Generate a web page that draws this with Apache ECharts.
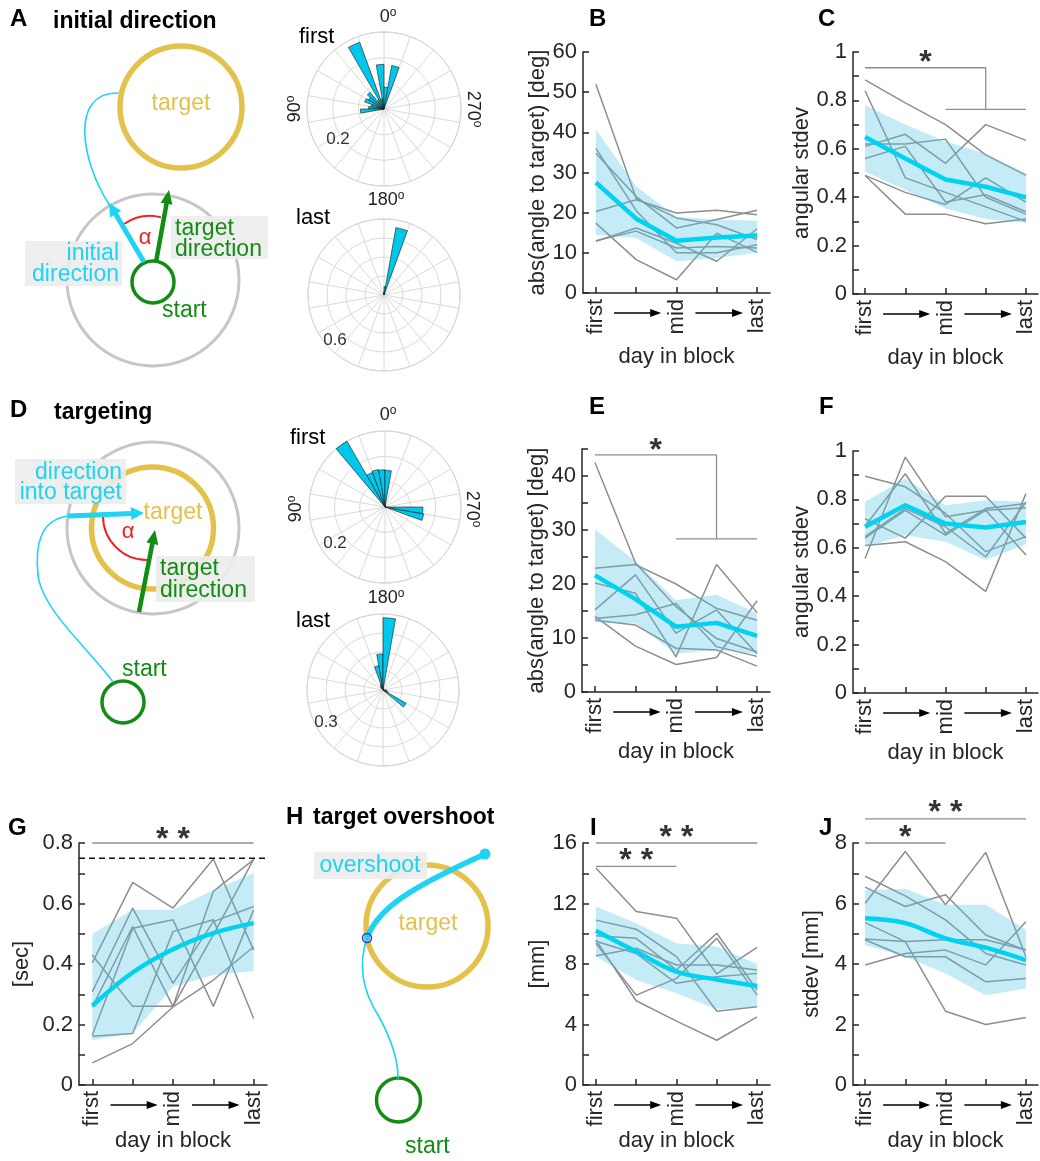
<!DOCTYPE html>
<html><head><meta charset="utf-8">
<script src="https://cdn.jsdelivr.net/npm/echarts@6/dist/echarts.min.js"></script>
<style>html,body{margin:0;padding:0;background:#fff}#c{width:1040px;height:1161px}</style>
</head><body><div id="c"></div>
<script>
// ---------- categories / ticks ----------
const dayLabels = ['first', '', 'mid', '', 'last'];
const dayTicks = [0, 1, 2, 3, 4];
const dayLabelPos = [0, 2, 4];
const roseBins = ['0','10','20','30','40','50','60','70','80','90','100','110','120','130','140','150','160','170',
  '180','190','200','210','220','230','240','250','260','270','280','290','300','310','320','330','340','350'];

// ---------- rose histograms (probability per 10 deg bin, counter-clockwise from top) ----------
const initFirst = [0.174,0.04,0.277,0.04,0.085,0.07,0.08,0.05,0.06,0.092,0,0,0,0,0,0,0,0,0,0,0,0,0,0,0,0,0,0,0,0,0,0,0,0,0.172,0.085];
const initLast  = [0.03,0,0,0,0,0,0,0,0,0,0,0,0,0,0,0,0,0,0,0,0,0,0,0,0,0,0,0,0,0,0,0,0,0.02,0.72,0.09];
const targFirst = [0.147,0.15,0.145,0.30,0,0,0,0,0,0,0,0,0,0,0,0,0,0,0,0,0,0,0,0,0,0.155,0.15,0,0,0,0,0,0,0,0,0.145];
const targLast  = [0.19,0.13,0.03,0.02,0,0,0,0,0,0,0,0,0,0,0,0,0,0,0,0,0,0,0,0.14,0.03,0,0.02,0,0,0,0,0,0,0,0,0.38];

// ---------- B: initial direction error ----------
const bMean  = [27.5, 18.5, 13.0, 13.8, 14.3];
const bUpper = [40.7, 26.5, 19.0, 18.3, 18.0];
const bLower = [14.5, 13.7, 7.9, 8.7, 10.0];
const bSubj = [
  [52, 23.5, 18.7, 17.0, 13.3],
  [36, 20.5, 10.0, 10.0, 12.0],
  [34.8, 24.0, 16.2, 18.3, 20.6],
  [20.3, 23.2, 19.9, 20.6, 19.5],
  [17.4, 8.3, 3.3, 14.9, 10.1],
  [12.9, 16.2, 12.4, 7.9, 16.0],
  [13.0, 15.4, 11.2, 11.6, 11.2]
];
// ---------- C ----------
const cMean  = [0.649, 0.56, 0.473, 0.443, 0.399];
const cUpper = [0.78, 0.70, 0.63, 0.58, 0.50];
const cLower = [0.505, 0.43, 0.353, 0.31, 0.294];
const cSubj = [
  [0.885, 0.79, 0.70, 0.575, 0.49],
  [0.61, 0.66, 0.54, 0.70, 0.635],
  [0.84, 0.48, 0.42, 0.36, 0.30],
  [0.62, 0.62, 0.64, 0.40, 0.33],
  [0.56, 0.61, 0.38, 0.41, 0.34],
  [0.49, 0.33, 0.33, 0.29, 0.31],
  [0.49, 0.42, 0.37, 0.48, 0.38]
];
const cSig = [[[0,0.935],[3,0.935],[3,0.763]], [[2,0.763],[4,0.763]]];
const cStars = [[1.5, 0.952, '*']];
// ---------- E ----------
const eMean  = [21.6, 17.2, 12.1, 12.8, 10.4];
const eUpper = [30.1, 24.2, 17.0, 18.0, 14.6];
const eLower = [12.9, 12.7, 7.1, 7.8, 7.1];
const eSubj = [
  [42.5, 23.9, 15.8, 9.9, 7.4],
  [22.9, 23.6, 20.0, 15.5, 13.3],
  [20.2, 18.3, 6.5, 23.6, 14.7],
  [15.2, 21.7, 10.9, 15.2, 7.1],
  [13.6, 14.3, 16.4, 8.4, 6.6],
  [13.3, 12.4, 8.1, 7.8, 4.8],
  [14.0, 8.5, 5.1, 6.4, 16.9]
];
const eSig = [[[0,43.9],[3,43.9],[3,28.35]], [[2,28.35],[4,28.35]]];
const eStars = [[1.5, 44.6, '*']];
// ---------- F ----------
const fMean  = [0.687, 0.776, 0.70, 0.684, 0.707];
const fUpper = [0.79, 0.886, 0.776, 0.797, 0.79];
const fLower = [0.604, 0.652, 0.625, 0.55, 0.615];
const fSubj = [
  [0.896, 0.852, 0.742, 0.584, 0.646],
  [0.556, 0.975, 0.728, 0.755, 0.57],
  [0.72, 0.64, 0.813, 0.813, 0.64],
  [0.69, 0.906, 0.66, 0.762, 0.783],
  [0.646, 0.762, 0.687, 0.563, 0.79],
  [0.64, 0.755, 0.652, 0.755, 0.766],
  [0.61, 0.625, 0.543, 0.42, 0.824]
];
// ---------- G ----------
const gMean  = [0.262, 0.372, 0.449, 0.502, 0.535];
const gUpper = [0.50, 0.579, 0.579, 0.645, 0.70];
const gLower = [0.148, 0.17, 0.325, 0.364, 0.377];
const gSubj = [
  [0.404, 0.67, 0.585, 0.747, 0.446],
  [0.43, 0.26, 0.26, 0.64, 0.745],
  [0.308, 0.585, 0.336, 0.54, 0.59],
  [0.258, 0.524, 0.26, 0.496, 0.747],
  [0.165, 0.518, 0.546, 0.26, 0.579],
  [0.161, 0.17, 0.507, 0.546, 0.22],
  [0.073, 0.137, 0.258, 0.347, 0.457]
];
const gSig = [[[0,0.8],[4,0.8]]];
const gStars = [[2, 0.811, '* *']];
const gLimit = 0.75;
// ---------- I ----------
const iMean  = [10.2, 8.82, 7.49, 6.98, 6.54];
const iUpper = [11.8, 10.7, 9.37, 9.15, 8.0];
const iLower = [8.49, 6.94, 6.06, 5.0, 5.17];
const iSubj = [
  [14.34, 11.47, 11.03, 7.34, 9.1],
  [10.9, 10.3, 8.49, 4.88, 5.17],
  [9.86, 9.7, 7.6, 10.03, 6.28],
  [9.59, 5.57, 4.22, 2.96, 4.5],
  [9.37, 5.94, 7.05, 9.7, 5.94],
  [8.55, 9.04, 7.93, 7.93, 7.6],
  [9.5, 8.7, 6.72, 7.16, 7.38]
];
const iSig = [[[0,16],[4,16]], [[0,14.45],[2,14.45]]];
const iStars = [[2, 16.31, '* *'], [1, 14.77, '* *']];
// ---------- J ----------
const jMean  = [5.51, 5.35, 4.85, 4.54, 4.13];
const jUpper = [6.45, 6.49, 5.96, 5.96, 5.13];
const jLower = [4.63, 4.24, 3.69, 2.97, 3.19];
const jSubj = [
  [6.01, 7.72, 5.96, 7.69, 4.24],
  [6.9, 6.25, 5.46, 4.35, 3.97],
  [6.54, 5.9, 6.29, 4.96, 4.46],
  [5.37, 4.74, 2.44, 2.0, 2.23],
  [4.83, 4.74, 4.8, 4.8, 4.46],
  [4.8, 4.24, 4.24, 3.41, 3.52],
  [3.97, 4.35, 4.46, 3.97, 5.4]
];
const jSig = [[[0,8.8],[4,8.8]], [[0,8],[2,8]]];
const jStars = [[2, 9.0, '* *'], [1, 8.15, '*']];

// ---------- styles ----------
const FONT = '"Liberation Sans", Arial, Helvetica, sans-serif';
const AX = '#262626';
const GRAYL = '#8e8e8e';
const CYAN = '#00D2F0';
const CYAN_T = '#1ED3F3';
const BAND = 'rgba(80,195,230,0.33)';
const ROSE = '#00C8EA';
const GOLD = '#E2C24A';
const GREEN = '#138C13';
const RED = '#F02020';
const CIRC_GRAY = '#C6C6C6';
const BOX = 'rgba(236,236,236,0.9)';

const grid = [], xAxis = [], yAxis = [], series = [], polar = [], angleAxis = [], radiusAxis = [], graphics = [];
const panels = [];

function addPanel(o) {
  const gi = grid.length;
  grid.push({left: o.left, top: o.top, width: o.width, height: o.height, containLabel: false, outerBoundsMode: 'none'});
  const xi = xAxis.length;
  xAxis.push({gridIndex: gi, type: 'value', min: o.xmin, max: o.xmax, position: 'bottom',
    axisLine: {show: true, onZero: false, lineStyle: {color: AX, width: 1.5}},
    axisTick: {show: true, inside: true, length: 6, customValues: dayTicks, lineStyle: {color: AX, width: 1.5}},
    axisLabel: {show: true, customValues: dayLabelPos, rotate: 90, margin: 6, fontSize: 22, color: AX, fontFamily: FONT,
      formatter: v => dayLabels[Math.round(v)]},
    splitLine: {show: false},
    name: 'day in block', nameLocation: 'middle', nameGap: o.xNameGap,
    nameTextStyle: {fontSize: 22, color: AX, fontFamily: FONT}});
  const yi = yAxis.length;
  yAxis.push({gridIndex: gi, type: 'value', min: 0, max: o.ymax, interval: o.ystep,
    axisLine: {show: true, onZero: false, lineStyle: {color: AX, width: 1.5}},
    axisTick: {show: true, inside: true, length: 6, lineStyle: {color: AX, width: 1.5}},
    axisLabel: {fontSize: 22, color: AX, fontFamily: FONT, margin: 6,
      formatter: v => { const k = v / o.labelStep; return Math.abs(k - Math.round(k)) < 1e-6 ? String(+v.toFixed(2)) : ''; }},
    splitLine: {show: false},
    name: o.yName, nameLocation: 'middle', nameGap: o.yNameGap,
    nameTextStyle: {fontSize: 22, color: AX, fontFamily: FONT}});
  // individual subjects
  o.subj.forEach(s => series.push({type: 'line', xAxisIndex: xi, yAxisIndex: yi, data: s.map((v, i) => [dayTicks[i], v]),
    symbol: 'none', silent: true, lineStyle: {color: GRAYL, width: 1.5}, z: 2}));
  // confidence band
  const up = o.upper, lo = o.lower;
  series.push({type: 'custom', xAxisIndex: xi, yAxisIndex: yi, silent: true, z: 3,
    data: up.map((u, i) => [dayTicks[i], lo[i], u]), encode: {x: 0, y: [1, 2]},
    renderItem: (params, api) => {
      if (params.dataIndex !== 0) return {type: 'group', children: []};
      const a = up.map((v, i) => api.coord([dayTicks[i], v]));
      const b = lo.map((v, i) => api.coord([dayTicks[i], v])).reverse();
      return {type: 'polygon', shape: {points: a.concat(b)}, style: {fill: BAND}};
    }});
  // mean
  series.push({type: 'line', xAxisIndex: xi, yAxisIndex: yi, data: o.mean.map((v, i) => [dayTicks[i], v]),
    symbol: 'none', silent: true, smooth: o.smooth || false, lineStyle: {color: CYAN, width: 4.5}, z: 4});
  // limit line
  if (o.limit !== undefined) {
    series.push({type: 'line', xAxisIndex: xi, yAxisIndex: yi, data: [[o.xmin, o.limit], [o.xmax, o.limit]],
      symbol: 'none', silent: true, lineStyle: {color: '#111', width: 1.5, type: [6, 4]}, z: 5});
  }
  (o.sig || []).forEach(seg => series.push({type: 'line', xAxisIndex: xi, yAxisIndex: yi, data: seg, symbol: 'none',
    clip: false, silent: true, lineStyle: {color: GRAYL, width: 1.3}, z: 2}));
  (o.stars || []).forEach(s => series.push({type: 'scatter', xAxisIndex: xi, yAxisIndex: yi, data: [[s[0], s[1]]],
    symbolSize: 1, clip: false, silent: true, itemStyle: {color: 'rgba(0,0,0,0)'},
    label: {show: true, position: 'inside', formatter: s[2], fontSize: 32, fontWeight: 'bold', color: '#000', fontFamily: FONT}, z: 6}));
  panels.push({gi, xi, yi});
}

addPanel({left: 583, top: 52, width: 187, height: 241, xmin: -0.32, xmax: 4.32, ymax: 60, ystep: 10, labelStep: 10,
  yName: 'abs(angle to target) [deg]', yNameGap: 31, xNameGap: 53, subj: bSubj, mean: bMean, upper: bUpper, lower: bLower});
addPanel({left: 853, top: 52, width: 185, height: 242, xmin: -0.3, xmax: 4.3, ymax: 1, ystep: 0.1, labelStep: 0.2,
  yName: 'angular stdev', yNameGap: 30, xNameGap: 53, subj: cSubj, mean: cMean, upper: cUpper, lower: cLower, sig: cSig, stars: cStars});
addPanel({left: 582, top: 449, width: 188, height: 243, xmin: -0.32, xmax: 4.32, ymax: 45, ystep: 5, labelStep: 10,
  yName: 'abs(angle to target) [deg]', yNameGap: 31, xNameGap: 49, subj: eSubj, mean: eMean, upper: eUpper, lower: eLower, sig: eSig, stars: eStars});
addPanel({left: 853, top: 451, width: 185, height: 242, xmin: -0.3, xmax: 4.3, ymax: 1, ystep: 0.1, labelStep: 0.2,
  yName: 'angular stdev', yNameGap: 30, xNameGap: 49, subj: fSubj, mean: fMean, upper: fUpper, lower: fLower});
addPanel({left: 79, top: 843, width: 188, height: 242, xmin: -0.33, xmax: 4.33, ymax: 0.8, ystep: 0.1, labelStep: 0.2,
  yName: '[sec]', yNameGap: 46, xNameGap: 45, subj: gSubj, mean: gMean, upper: gUpper, lower: gLower, sig: gSig, stars: gStars, limit: gLimit, smooth: 0.4});
addPanel({left: 583, top: 843, width: 187, height: 242, xmin: -0.32, xmax: 4.32, ymax: 16, ystep: 2, labelStep: 4,
  yName: '[mm]', yNameGap: 26, xNameGap: 45, subj: iSubj, mean: iMean, upper: iUpper, lower: iLower, sig: iSig, stars: iStars, smooth: 0.4});
addPanel({left: 853, top: 843, width: 185, height: 242, xmin: -0.3, xmax: 4.3, ymax: 8, ystep: 1, labelStep: 2,
  yName: 'stdev [mm]', yNameGap: 30, xNameGap: 45, subj: jSubj, mean: jMean, upper: jUpper, lower: jLower, sig: jSig, stars: jStars, smooth: 0.4});

// ---------- rose plots ----------
function addRose(center, radius, rmax, rstep, values) {
  const pi = polar.length;
  polar.push({center: center, radius: radius});
  angleAxis.push({polarIndex: pi, type: 'category', data: roseBins, startAngle: 90, clockwise: false, boundaryGap: true,
    axisLine: {show: true, lineStyle: {color: '#d6d6d6', width: 1}}, axisTick: {show: false}, axisLabel: {show: false},
    splitLine: {show: true, interval: 2, lineStyle: {color: '#dadada', width: 1}}});
  radiusAxis.push({polarIndex: pi, type: 'value', min: 0, max: rmax, interval: rstep,
    axisLine: {show: false}, axisTick: {show: false}, axisLabel: {show: false},
    splitLine: {show: true, lineStyle: {color: '#dadada', width: 1}}});
  series.push({type: 'bar', coordinateSystem: 'polar', polarIndex: pi, data: values, barCategoryGap: '0%', barGap: '0%',
    silent: true, itemStyle: {color: ROSE, borderColor: '#1a1a1a', borderWidth: 0.6}, z: 3});
}
addRose([384, 109], 77, 0.3, 0.1, initFirst);
addRose([384, 295], 76, 0.8, 0.2, initLast);
addRose([385, 507], 76, 0.3, 0.1, targFirst);
addRose([383, 690], 76, 0.4, 0.1, targLast);

// ---------- text helpers ----------
function T(x, y, text, o) {
  o = o || {};
  return {type: 'text', x: x, y: y, rotation: o.rot || 0, z: o.z || 20, silent: true,
    style: {text: text, fill: o.color || '#000', fontSize: o.size || 22, fontWeight: o.bold ? 'bold' : 'normal',
      fontFamily: FONT, align: o.align || 'left', verticalAlign: 'middle', rich: o.rich}};
}
const degRich = {s: {fontSize: 12, fill: '#222', verticalAlign: 'top', padding: [0, 0, 8, 0], fontFamily: FONT}};
function deg(x, y, num, rot) {
  return {type: 'text', x: x, y: y, rotation: rot || 0, z: 20, silent: true,
    style: {text: num + '{s|o}', fill: '#222', fontSize: 18, fontFamily: FONT, align: 'center', verticalAlign: 'middle', rich: degRich}};
}
function arrow(x1, y1, x2, y2, color, w, hl, hw) {
  const dx = x2 - x1, dy = y2 - y1, L = Math.hypot(dx, dy), ux = dx / L, uy = dy / L;
  const bx = x2 - ux * hl, by = y2 - uy * hl;
  return [
    {type: 'line', silent: true, z: 15, shape: {x1: x1, y1: y1, x2: bx + ux, y2: by + uy}, style: {stroke: color, lineWidth: w}},
    {type: 'polygon', silent: true, z: 15, shape: {points: [[x2, y2], [bx - uy * hw / 2, by + ux * hw / 2], [bx + uy * hw / 2, by - ux * hw / 2]]}, style: {fill: color}}
  ];
}
function circ(cx, cy, r, color, w, z) {
  return {type: 'circle', silent: true, z: z || 10, shape: {cx: cx, cy: cy, r: r}, style: {fill: 'none', stroke: color, lineWidth: w}};
}
function bez(p, color, w, z) {
  return {type: 'bezierCurve', silent: true, z: z || 11,
    shape: {x1: p[0], y1: p[1], cpx1: p[2], cpy1: p[3], cpx2: p[4], cpy2: p[5], x2: p[6], y2: p[7]},
    style: {stroke: color, lineWidth: w, fill: 'none', lineCap: 'round'}};
}
function rect(x, y, w, h, z) {
  return {type: 'rect', silent: true, z: z || 12, shape: {x: x, y: y, width: w, height: h}, style: {fill: BOX}};
}

// panel letters & titles
graphics.push(T(10, 19, 'A', {size: 24, bold: true}));
graphics.push(T(53, 22, 'initial direction', {size: 23, bold: true}));
graphics.push(T(589, 19, 'B', {size: 24, bold: true}));
graphics.push(T(818, 19, 'C', {size: 24, bold: true}));
graphics.push(T(10, 410, 'D', {size: 24, bold: true}));
graphics.push(T(54, 413, 'targeting', {size: 23, bold: true}));
graphics.push(T(589, 407, 'E', {size: 24, bold: true}));
graphics.push(T(819, 407, 'F', {size: 24, bold: true}));
graphics.push(T(8, 828, 'G', {size: 24, bold: true}));
graphics.push(T(286, 817, 'H', {size: 24, bold: true}));
graphics.push(T(313, 818, 'target overshoot', {size: 23, bold: true}));
graphics.push(T(590, 828, 'I', {size: 24, bold: true}));
graphics.push(T(819, 828, 'J', {size: 24, bold: true}));

// rose labels
graphics.push(T(299, 37, 'first'));
graphics.push(T(296, 218, 'last'));
graphics.push(T(290, 438, 'first'));
graphics.push(T(296, 621, 'last'));
graphics.push(deg(388, 17, '0'), deg(295, 109, '90', Math.PI / 2), deg(473, 109, '270', -Math.PI / 2), deg(386, 200, '180'));
graphics.push(deg(388, 415, '0'), deg(296, 509, '90', Math.PI / 2), deg(472, 509, '270', -Math.PI / 2), deg(386, 598, '180'));
graphics.push(T(338, 139, '0.2', {size: 17, color: '#333', align: 'center'}));
graphics.push(T(335, 340, '0.6', {size: 17, color: '#333', align: 'center'}));
graphics.push(T(335, 543, '0.2', {size: 17, color: '#333', align: 'center'}));
graphics.push(T(326, 722, '0.3', {size: 17, color: '#333', align: 'center'}));

// ---------- diagram A ----------
graphics.push(circ(153, 280, 86, CIRC_GRAY, 3, 9));
graphics.push(circ(181, 107, 61, GOLD, 5.5));
graphics.push(T(181, 104, 'target', {color: GOLD, align: 'center', size: 23}));
graphics.push(circ(153, 282, 21, GREEN, 3.5));
graphics.push(T(162, 311, 'start', {color: GREEN, size: 23}));
graphics.push(bez([118, 93, 70, 92, 80, 160, 110, 206], CYAN_T, 1.6));
graphics.push(...arrow(144, 262, 109, 203, CYAN_T, 5, 13, 13));
graphics.push(...arrow(156, 262, 169, 190, GREEN, 4.5, 14, 12));
graphics.push({type: 'arc', silent: true, z: 13, shape: {cx: 150, cy: 262, r: 46, startAngle: -124 * Math.PI / 180, endAngle: -76 * Math.PI / 180, clockwise: true}, style: {stroke: RED, lineWidth: 2, fill: 'none'}});
graphics.push(T(145, 238, 'α', {color: RED, align: 'center', size: 22}));
graphics.push(rect(25, 241, 97, 45));
graphics.push(T(119, 254, 'initial', {color: CYAN_T, align: 'right', size: 23}));
graphics.push(T(119, 275, 'direction', {color: CYAN_T, align: 'right', size: 23}));
graphics.push(rect(171, 216, 97, 43));
graphics.push(T(175, 229, 'target', {color: GREEN, size: 23}));
graphics.push(T(175, 250, 'direction', {color: GREEN, size: 23}));

// ---------- diagram D ----------
graphics.push(circ(153, 528, 86, CIRC_GRAY, 3, 9));
graphics.push(circ(152.5, 528, 61, GOLD, 5.5));
graphics.push(T(173, 513, 'target', {color: GOLD, align: 'center', size: 23}));
graphics.push(bez([68, 516, 40, 520, 35, 545, 38, 575], CYAN_T, 1.6));
graphics.push(bez([38, 575, 42, 610, 90, 650, 113, 682], CYAN_T, 1.6));
graphics.push(circ(123, 702, 21, GREEN, 3.5));
graphics.push(T(122, 670, 'start', {color: GREEN, size: 23}));
graphics.push({type: 'arc', silent: true, z: 13, shape: {cx: 147, cy: 516, r: 44, startAngle: Math.PI / 2, endAngle: Math.PI, clockwise: true}, style: {stroke: RED, lineWidth: 2, fill: 'none'}});
graphics.push(T(128, 532, 'α', {color: RED, align: 'center', size: 22}));
graphics.push(...arrow(139, 612, 155, 530, GREEN, 4.5, 14, 12));
graphics.push(rect(15, 459, 111, 45));
graphics.push(T(122, 473, 'direction', {color: CYAN_T, align: 'right', size: 23}));
graphics.push(T(122, 493, 'into target', {color: CYAN_T, align: 'right', size: 23}));
graphics.push(...arrow(68, 516, 144, 513, CYAN_T, 5, 13, 13));
graphics.push(rect(156, 556, 99, 46));
graphics.push(T(160, 569, 'target', {color: GREEN, size: 23}));
graphics.push(T(160, 591, 'direction', {color: GREEN, size: 23}));

// ---------- diagram H ----------
graphics.push(circ(427, 926, 61, GOLD, 5.5));
graphics.push(T(428, 924, 'target', {color: GOLD, align: 'center', size: 23}));
graphics.push(rect(314, 852, 113, 27));
graphics.push(T(370, 866, 'overshoot', {color: CYAN_T, align: 'center', size: 23}));
graphics.push(bez([367, 938, 378, 908, 410, 888, 485, 854], CYAN_T, 5.5, 14));
graphics.push({type: 'circle', silent: true, z: 14, shape: {cx: 485, cy: 854, r: 5.5}, style: {fill: CYAN_T}});
graphics.push(bez([367, 938, 358, 965, 362, 990, 378, 1015], CYAN_T, 1.6));
graphics.push(bez([378, 1015, 392, 1040, 398, 1060, 398, 1078], CYAN_T, 1.6));
graphics.push({type: 'circle', silent: true, z: 15, shape: {cx: 367, cy: 938, r: 4.5}, style: {fill: 'none', stroke: '#2A3BE0', lineWidth: 1.5}});
graphics.push(circ(398.5, 1100, 22, GREEN, 3.5));
graphics.push(T(405, 1147, 'start', {color: GREEN, size: 23}));

const chart = echarts.init(document.getElementById('c'), null, {renderer: 'canvas'});
chart.setOption({
  animation: false,
  backgroundColor: '#fff',
  textStyle: {fontFamily: FONT},
  grid: grid, xAxis: xAxis, yAxis: yAxis,
  polar: polar, angleAxis: angleAxis, radiusAxis: radiusAxis,
  series: series,
  graphic: graphics
});

// arrows under the "day in block" axes, positioned through the axis scales
const arrowSpans = [[0.45, 1.62], [2.47, 3.65]];
const extra = [];
panels.forEach(p => {
  arrowSpans.forEach(([a, b]) => {
    const p1 = chart.convertToPixel({gridIndex: p.gi}, [a, 0]);
    const p2 = chart.convertToPixel({gridIndex: p.gi}, [b, 0]);
    const y = p1[1] + 20;
    extra.push(...arrow(p1[0], y, p2[0], y, '#000', 1.6, 11, 8));
  });
});
chart.setOption({graphic: graphics.concat(extra)});
</script>
</body></html>
